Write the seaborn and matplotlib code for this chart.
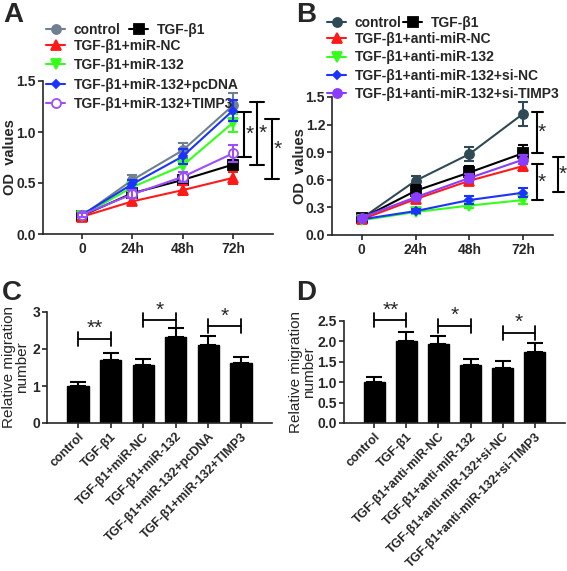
import numpy as np
import pandas as pd
import seaborn as sns
import matplotlib.pyplot as plt
from matplotlib.lines import Line2D

# ---- data ----
time_labels = ['0', '24h', '48h', '72h']

a_names = ['control', 'TGF-β1', 'TGF-β1+miR-NC', 'TGF-β1+miR-132',
           'TGF-β1+miR-132+pcDNA', 'TGF-β1+miR-132+TIMP3']
a_means = [[0.18, 0.53, 0.82, 1.26],
           [0.18, 0.40, 0.53, 0.68],
           [0.17, 0.32, 0.43, 0.55],
           [0.18, 0.46, 0.67, 1.09],
           [0.19, 0.49, 0.76, 1.21],
           [0.19, 0.39, 0.56, 0.79]]
a_errs = [[0.02, 0.05, 0.07, 0.12],
          [0.02, 0.04, 0.05, 0.05],
          [0.02, 0.03, 0.05, 0.06],
          [0.02, 0.04, 0.06, 0.09],
          [0.02, 0.04, 0.07, 0.10],
          [0.02, 0.04, 0.05, 0.08]]

b_names = ['control', 'TGF-β1', 'TGF-β1+anti-miR-NC', 'TGF-β1+anti-miR-132',
           'TGF-β1+anti-miR-132+si-NC', 'TGF-β1+anti-miR-132+si-TIMP3']
b_means = [[0.18, 0.59, 0.88, 1.32],
           [0.18, 0.48, 0.68, 0.89],
           [0.17, 0.39, 0.59, 0.75],
           [0.16, 0.25, 0.32, 0.38],
           [0.17, 0.26, 0.38, 0.46],
           [0.19, 0.41, 0.62, 0.82]]
b_errs = [[0.02, 0.05, 0.08, 0.13],
          [0.02, 0.06, 0.07, 0.09],
          [0.02, 0.04, 0.04, 0.05],
          [0.01, 0.02, 0.03, 0.04],
          [0.02, 0.02, 0.04, 0.05],
          [0.02, 0.03, 0.04, 0.05]]

c_labels = a_names
c_means = [1.00, 1.70, 1.57, 2.33, 2.12, 1.61]
c_errs = [0.10, 0.19, 0.17, 0.25, 0.23, 0.18]

d_labels = b_names
d_means = [1.00, 2.01, 1.93, 1.42, 1.36, 1.75]
d_errs = [0.13, 0.23, 0.20, 0.14, 0.16, 0.20]

# significance annotations: (x, y_top, y_bottom) for line plots, (x1, x2, y, text) for bars
a_sig = [(3.23, 1.20, 0.755), (3.49, 1.29, 0.68), (3.78, 1.13, 0.54)]
b_sig = [(3.26, 1.34, 0.89), (3.26, 0.77, 0.38), (3.65, 0.85, 0.47)]
c_sig = [(0, 1, 2.27, '**'), (2, 3, 2.78, '*'), (4, 5, 2.62, '*')]
d_sig = [(0, 1, 2.52, '**'), (2, 3, 2.38, '*'), (4, 5, 2.21, '*')]

# ---- styles ----
a_colors = ['#708090', '#000000', '#ff1a1a', '#33ff1a', '#1a33ff', '#9b4dff']
b_colors = ['#2f4a55', '#000000', '#ff1a1a', '#33ff1a', '#1a33ff', '#8a3cff']
markers = ['o', 's', '^', 'v', 'D', 'o']
a_fill = [True, True, True, True, True, False]

sns.set_style('ticks')
plt.rcParams['font.family'] = ['Liberation Sans', 'DejaVu Sans']
plt.rcParams['axes.linewidth'] = 1.2
plt.rcParams['xtick.major.width'] = 1.2
plt.rcParams['ytick.major.width'] = 1.2
plt.rcParams['xtick.major.size'] = 3.5
plt.rcParams['ytick.major.size'] = 3.5
plt.rcParams['xtick.major.pad'] = 2
plt.rcParams['ytick.major.pad'] = 1.5

fig = plt.figure(figsize=(5.67, 5.71), dpi=100)
W, H = 567, 571


def px_axes(left, right, top, bottom):
    return fig.add_axes([left / W, 1 - bottom / H, (right - left) / W, (bottom - top) / H])


def line_panel(ax, means, errs, colors, fills, xlim, ylim, yticks, label_x):
    x = np.arange(len(time_labels))
    handles = []
    for i in range(len(means)):
        df = pd.DataFrame({'t': x, 'od': means[i]})
        face = colors[i] if fills[i] else 'white'
        ms = 4.5 if markers[i] == 'D' else 6.5
        sns.lineplot(data=df, x='t', y='od', ax=ax, color=colors[i], lw=1.5,
                     marker=markers[i], markersize=ms, markerfacecolor=face,
                     markeredgecolor=colors[i], markeredgewidth=1.3, zorder=3 + i)
        ax.errorbar(x, means[i], yerr=errs[i], fmt='none', ecolor=colors[i],
                    elinewidth=1.5, capsize=3.5, capthick=1.5, zorder=3 + i)
        handles.append(Line2D([], [], color=colors[i], lw=1.5, marker=markers[i],
                              markersize=ms, markerfacecolor=face,
                              markeredgecolor=colors[i], markeredgewidth=1.3))
    ax.set_xlim(*xlim)
    ax.set_ylim(*ylim)
    ax.set_xticks(x)
    ax.set_xticklabels(time_labels)
    ax.set_yticks(yticks)
    ax.set_yticklabels([f'{v:.1f}' for v in yticks])
    ax.set_xlabel('')
    ax.set_ylabel('OD  values', fontsize=10.5, fontweight='bold')
    ax.yaxis.set_label_coords(label_x, 0.5)
    for lab in ax.get_xticklabels() + ax.get_yticklabels():
        lab.set_fontweight('bold')
        lab.set_fontsize(10)
    sns.despine(ax=ax)
    return handles


def vert_sig(ax, sigs, half):
    for x, top, bot in sigs:
        ax.plot([x, x], [bot, top], color='black', lw=1.5, clip_on=False)
        ax.plot([x - half, x + half], [top, top], color='black', lw=1.5, clip_on=False)
        ax.plot([x - half, x + half], [bot, bot], color='black', lw=1.5, clip_on=False)
        ax.text(x + half * 0.75, (top + bot) / 2, '*', fontsize=15, ha='center',
                va='center', clip_on=False)


def bar_panel(ax, labels, means, errs, sigs, ylim, yticks, fmt, dy, label_x):
    sns.barplot(x=labels, y=means, color='black', width=0.65, ax=ax,
                saturation=1, edgecolor='black')
    ax.errorbar(np.arange(len(means)), means, yerr=[np.zeros(len(errs)), errs],
                fmt='none', ecolor='black', elinewidth=1.5, capsize=6, capthick=1.5)
    for x1, x2, y, txt in sigs:
        ax.plot([x1, x2], [y, y], color='black', lw=1.3, clip_on=False)
        for xx in (x1, x2):
            ax.plot([xx, xx], [y - dy, y + dy], color='black', lw=1.3, clip_on=False)
        ax.text((x1 + x2) / 2, y + dy * 0.1, txt, fontsize=15, ha='center',
                va='bottom', clip_on=False)
    ax.set_xlim(-0.95, len(means) - 0.05)
    ax.set_ylim(*ylim)
    ax.set_yticks(yticks)
    ax.set_yticklabels([fmt.format(v) for v in yticks])
    ax.set_ylabel('Relative migration\nnumber', fontsize=11, linespacing=0.95)
    ax.yaxis.set_label_coords(label_x, 0.5)
    ax.set_xticks(np.arange(len(labels)))
    ax.set_xticklabels(labels, rotation=45, ha='right', rotation_mode='anchor')
    for lab in ax.get_xticklabels():
        lab.set_fontweight('bold')
        lab.set_fontsize(9)
    for lab in ax.get_yticklabels():
        lab.set_fontweight('bold')
        lab.set_fontsize(10)
    sns.despine(ax=ax)


def legend_block(ax, handles, names, x0, y0, colsp, lsp):
    leg1 = ax.legend(handles[:2], names[:2], ncol=2, frameon=False, loc='upper left',
                     bbox_to_anchor=(x0 / W, 1 - y0 / H), bbox_transform=fig.transFigure,
                     prop={'weight': 'bold', 'size': 10}, handlelength=1.4,
                     handletextpad=0.6, columnspacing=colsp, borderpad=0, borderaxespad=0)
    ax.add_artist(leg1)
    ax.legend(handles[2:], names[2:], frameon=False, loc='upper left',
              bbox_to_anchor=(x0 / W, 1 - (y0 + 16) / H), bbox_transform=fig.transFigure,
              prop={'weight': 'bold', 'size': 10}, handlelength=1.4,
              handletextpad=0.6, labelspacing=lsp, borderpad=0, borderaxespad=0)


# ---- panel A ----
axA = px_axes(43, 273, 81, 234)
hA = line_panel(axA, a_means, a_errs, a_colors, a_fill, (-0.78, 3.8), (0, 1.5),
                [0.0, 0.5, 1.0, 1.5], -0.115)
vert_sig(axA, a_sig, 0.14)
legend_block(axA, hA, a_names, 46, 23, 0.6, 0.38)

# ---- panel B ----
axB = px_axes(332, 553, 97, 235)
hB = line_panel(axB, b_means, b_errs, b_colors, [True] * 6, (-0.55, 3.55), (0, 1.5),
                [0.0, 0.3, 0.6, 0.9, 1.2, 1.5], -0.115)
vert_sig(axB, b_sig, 0.1)
legend_block(axB, hB, b_names, 327, 16, 0.1, 0.32)

# ---- panel C ----
axC = px_axes(47, 272, 312, 423)
bar_panel(axC, c_labels, c_means, c_errs, c_sig, (0, 3), [0, 1, 2, 3], '{:.0f}', 0.19,
          -0.08)

# ---- panel D ----
axD = px_axes(344, 565, 321, 423)
bar_panel(axD, d_labels, d_means, d_errs, d_sig, (0, 2.5),
          [0.0, 0.5, 1.0, 1.5, 2.0, 2.5], '{:.1f}', 0.17, -0.125)

# panel letters
for txt, x, y in [('A', 3, 2), ('B', 296, 2), ('C', 2, 280), ('D', 296, 280)]:
    fig.text(x / W, 1 - y / H, txt, fontsize=20, fontweight='bold', ha='left', va='top')

fig.savefig('out.png', dpi=100)
